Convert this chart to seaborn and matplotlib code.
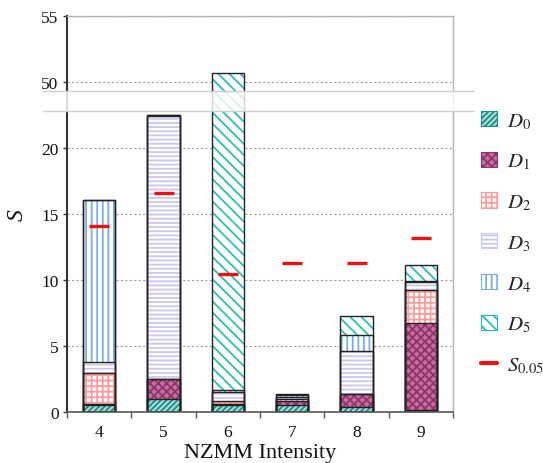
import numpy as np
import pandas as pd
import matplotlib
matplotlib.use("Agg")
import matplotlib.pyplot as plt
import matplotlib.patches as mpatches
import matplotlib.transforms as mtransforms
from matplotlib.lines import Line2D
import seaborn as sns

# ---------------- data ----------------
intensity = ["4", "5", "6", "7", "8", "9"]
D0 = [0.5, 0.95, 0.5, 0.55, 0.4, 0.15]
D1 = [0.1, 1.55, 0.1, 0.3, 0.95, 6.55]
D2 = [2.35, 0.0, 0.25, 0.1, 0.0, 2.5]
D3 = [0.85, 19.9, 0.7, 0.2, 3.25, 0.6]
D4 = [12.2, 0.05, 0.15, 0.15, 1.25, 0.1]
D5 = [0.0, 0.05, 48.97, 0.06, 1.4, 1.25]
S005 = [14.1, 16.6, 10.45, 11.3, 11.3, 13.15]
series_names = ["D0", "D1", "D2", "D3", "D4", "D5"]
legend_labels = [r"$D_{0}$", r"$D_{1}$", r"$D_{2}$", r"$D_{3}$", r"$D_{4}$", r"$D_{5}$", r"$S_{0.05}$"]
yticks = [0, 5, 10, 15, 20, 50, 55]

# ---------------- styles ----------------
styles = {
    "D0": dict(face="#a6dfda", hatchc="#1f8a86", hatch="//////"),
    "D1": dict(face="#c46ea2", hatchc="#8e3468", hatch="xxxx"),
    "D2": dict(face="white", hatchc="#ff9a9a", hatch="+++"),
    "D3": dict(face="white", hatchc="#c8c8f0", hatch="----"),
    "D4": dict(face="white", hatchc="#7aaee6", hatch="|||"),
    "D5": dict(face="white", hatchc="#2dbdb5", hatch="\\\\\\"),
}

sns.set_theme(style="white")
plt.rcParams["font.family"] = ["Liberation Serif", "DejaVu Serif"]
plt.rcParams["mathtext.fontset"] = "stix"
plt.rcParams["hatch.linewidth"] = 1.3

df = pd.DataFrame({"intensity": intensity, "D0": D0, "D1": D1, "D2": D2,
                   "D3": D3, "D4": D4, "D5": D5, "S005": S005})
cum = df[series_names].cumsum(axis=1)

# broken axis via piecewise scale
L, U, G = 22.76, 49.31, 1.5


def fwd(y):
    y = np.asarray(y, dtype=float)
    return np.where(y <= L, y, np.where(y >= U, y - (U - L) + G, L + (y - L) * G / (U - L)))


def inv(t):
    t = np.asarray(t, dtype=float)
    return np.where(t <= L, t, np.where(t >= L + G, t + (U - L) - G, L + (t - L) * (U - L) / G))


fig = plt.figure(figsize=(5.43, 4.64), dpi=100)
ax = fig.add_axes([67 / 543, 1 - 413 / 464, (453 - 67) / 543, (413 - 17) / 464])
ax.set_yscale("function", functions=(fwd, inv))

# stacked bars: draw cumulative totals from the top series down
for name in reversed(series_names):
    st = styles[name]
    sns.barplot(x=df["intensity"], y=cum[name], ax=ax, width=0.5, color=st["face"],
                saturation=1, hatch=st["hatch"], edgecolor=st["hatchc"], linewidth=0,
                errorbar=None, zorder=2)
    sns.barplot(x=df["intensity"], y=cum[name], ax=ax, width=0.5, fill=False,
                color="#222222", linewidth=1.0, errorbar=None, zorder=2.1)

sns.scatterplot(x=df["intensity"], y=df["S005"], ax=ax, marker="_", s=190,
                color="#ee1111", linewidth=2.4, zorder=5, legend=False)

ax.set_xlim(-0.5, 5.5)
ax.set_ylim(0, 55)
ax.set_yticks(yticks)
ax.set_yticklabels([str(v) for v in yticks])
ax.yaxis.grid(True, linestyle=(0, (2, 2)), color="#a0a0a0", linewidth=0.8)
ax.xaxis.grid(False)
ax.set_axisbelow(True)

ax.set_xticks(range(len(intensity)))
ax.set_xticklabels(intensity)
ax.set_xticks(np.arange(-0.5, len(intensity), 1), minor=True)
ax.tick_params(axis="x", which="major", length=0, pad=9, labelsize=12.5, colors="#111111")
ax.tick_params(axis="x", which="minor", length=4, width=1, color="#555555", direction="out", bottom=True)
ax.tick_params(axis="y", which="major", length=3, width=1, color="#333333", direction="out",
               left=True, pad=3, labelsize=12.5, labelcolor="#111111")

for sp in ["top", "right"]:
    ax.spines[sp].set_color("#b0b0b0")
    ax.spines[sp].set_linewidth(1.0)
ax.spines["left"].set_color("#333333")
ax.spines["left"].set_linewidth(1.5)
ax.spines["bottom"].set_color("#555555")
ax.spines["bottom"].set_linewidth(1.2)

ax.set_xlabel("NZMM Intensity", fontsize=16, color="#111111", labelpad=2)
ax.set_ylabel("S", fontsize=17, fontstyle="italic", color="#111111", labelpad=10)

# break band
trans = mtransforms.blended_transform_factory(fig.transFigure, ax.transData)
x0, x1 = 43 / 543, 474 / 543
band = mpatches.Rectangle((x0, L), x1 - x0, U - L, transform=trans, facecolor="white",
                          alpha=0.82, edgecolor="none", clip_on=False, zorder=10)
ax.add_patch(band)
for yy in (L, U):
    ax.add_line(Line2D([x0, x1], [yy, yy], transform=trans, color="#cfcfcf", lw=1.0,
                       clip_on=False, zorder=11))

# legend
handles = []
for name in series_names:
    st = styles[name]
    handles.append(mpatches.Patch(facecolor=st["face"], edgecolor=st["hatchc"], hatch=st["hatch"], linewidth=0.8))
handles.append(Line2D([0], [0], color="#ee1111", lw=3))
fig.legend(handles, legend_labels, loc="upper left", bbox_to_anchor=(481 / 543, 1 - 112 / 464),
           frameon=False, fontsize=15, handlelength=0.75, handleheight=0.75, handletextpad=0.5,
           labelspacing=1.0, borderpad=0, borderaxespad=0)

fig.savefig("out.png", dpi=100)
